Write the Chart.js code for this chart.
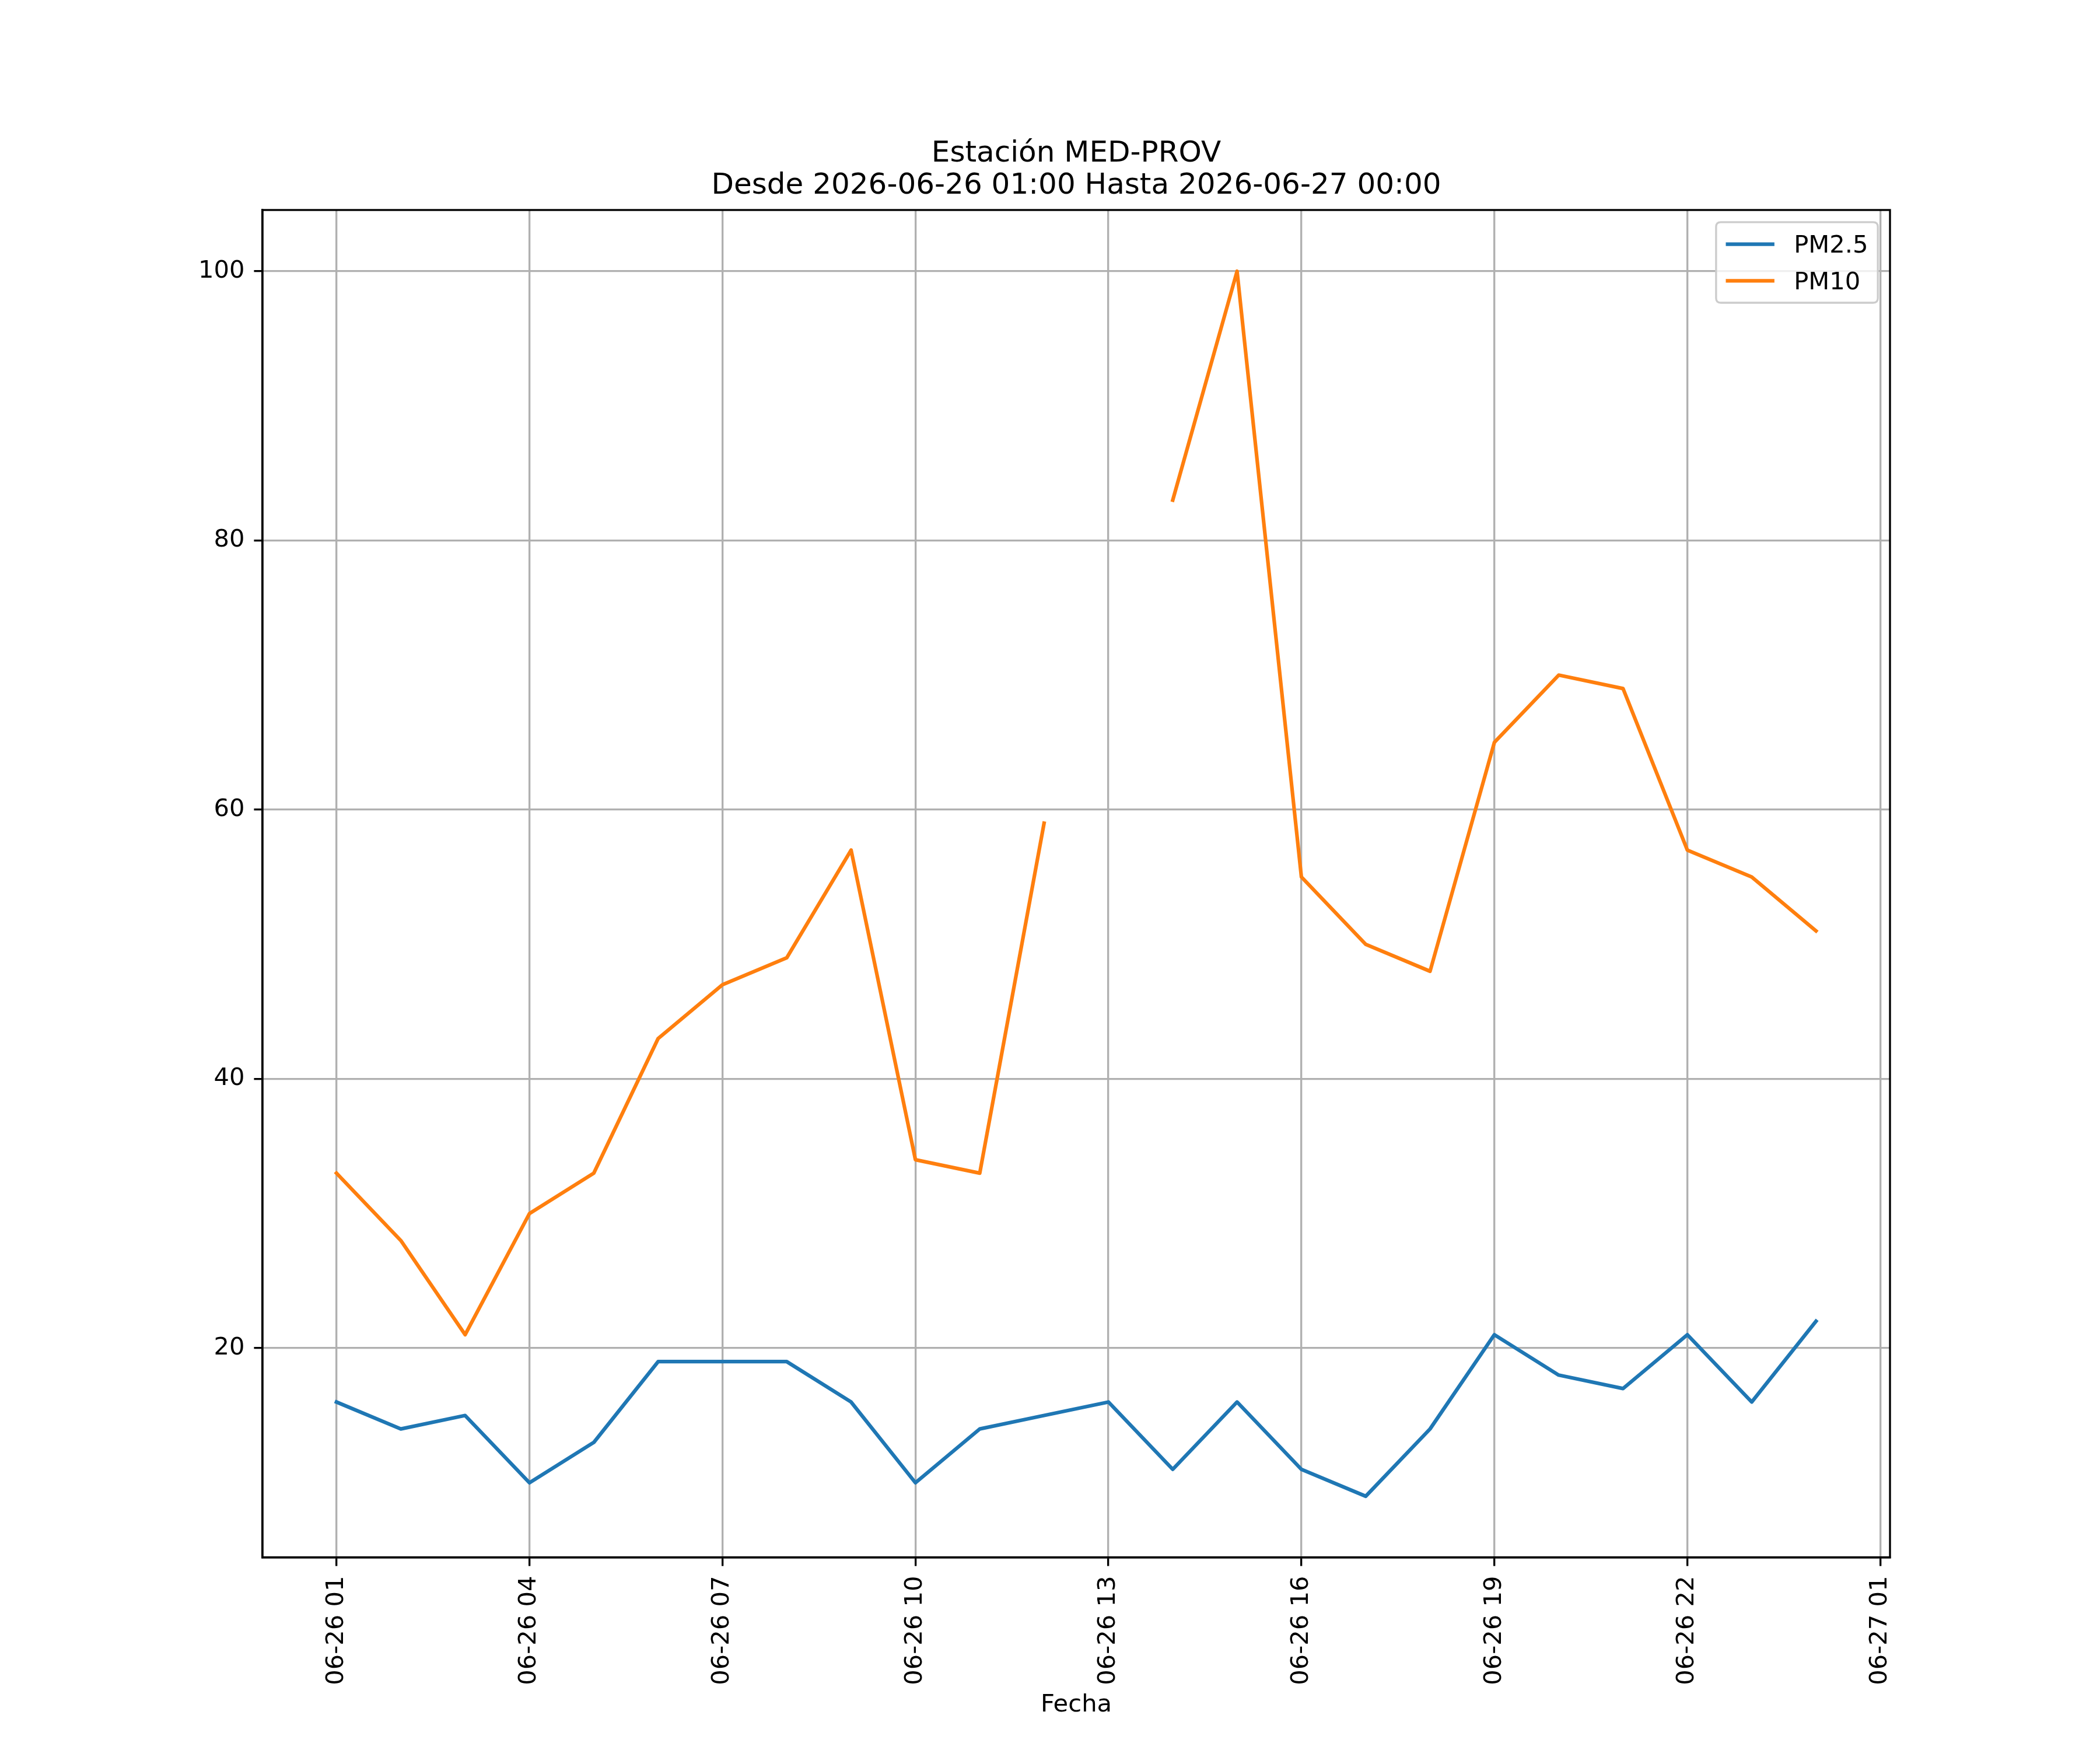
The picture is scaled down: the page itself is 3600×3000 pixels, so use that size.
<!DOCTYPE html>
<html>
<head>
<meta charset="utf-8">
<script src="https://cdn.jsdelivr.net/npm/chart.js@4.4.1/dist/chart.umd.min.js"></script>
<style>
html,body{margin:0;padding:0;background:#ffffff;}
canvas{display:block;}
</style>
</head>
<body>
<canvas id="chart" width="3600" height="3000" style="width:3600px;height:3000px;"></canvas>
<script>
// ---- data ----
const hours = [1,2,3,4,5,6,7,8,9,10,11,12,13,14,15,16,17,18,19,20,21,22,23,24];
const pm25 = [16,14,15,10,13,19,19,19,16,10,14,15,16,11,16,11,9,14,21,18,17,21,16,22];
const pm10 = [33,28,21,30,33,43,47,49,57,34,33,59,null,83,100,55,50,48,65,70,69,57,55,51];
const seriesNames = ['PM2.5','PM10'];
const xTickValues = [1,4,7,10,13,16,19,22,25];
const xTickLabels = ['06-26 01','06-26 04','06-26 07','06-26 10','06-26 13','06-26 16','06-26 19','06-26 22','06-27 01'];
const yTickValues = [20,40,60,80,100];
const titleLines = ['Estación MED-PROV','Desde 2026-06-26 01:00 Hasta 2026-06-27 00:00'];
const xAxisTitle = 'Fecha';

// ---- helpers ----
const toPoints = (ys) => hours.map((h,i) => ({x:h, y:ys[i]}));
const allY = pm25.concat(pm10).filter(v => v !== null);
const yMinD = Math.min(...allY), yMaxD = Math.max(...allY);
const xMinD = Math.min(...hours), xMaxD = Math.max(...hours);
const yPad = (yMaxD - yMinD) * 0.05, xPad = (xMaxD - xMinD) * 0.05;

const PT = 300/72;          // points -> pixels at 300 dpi
const FS = 10*PT;           // 10pt font
Chart.defaults.font.family = "'DejaVu Sans', sans-serif";
Chart.defaults.color = '#000000';

const framePlugin = {
  id: 'frame',
  afterDatasetsDraw(chart) {
    const {ctx, chartArea:a} = chart;
    ctx.save();
    ctx.strokeStyle = '#000000';
    ctx.lineWidth = 0.8*PT;
    ctx.strokeRect(a.left, a.top, a.right - a.left, a.bottom - a.top);
    ctx.restore();
  }
};

const legendPlugin = {
  id: 'mplLegend',
  afterDraw(chart) {
    const {ctx, chartArea:a} = chart;
    const ds = chart.data.datasets;
    ctx.save();
    ctx.font = FS + "px 'DejaVu Sans'";
    let maxW = 0;
    ds.forEach(d => { maxW = Math.max(maxW, ctx.measureText(d.label).width); });
    const pad = 0.4*FS, handleLen = 2.0*FS, hTextPad = 0.8*FS, rowH = 42, rowGap = 0.5*FS;
    const boxW = pad + handleLen + hTextPad + maxW + pad;
    const boxH = pad*2 + rowH*ds.length + rowGap*(ds.length-1);
    const right = a.right - 0.5*FS, top = a.top + 0.5*FS;
    const left = right - boxW;
    const r = 8;
    ctx.beginPath();
    ctx.moveTo(left + r, top);
    ctx.lineTo(right - r, top);
    ctx.quadraticCurveTo(right, top, right, top + r);
    ctx.lineTo(right, top + boxH - r);
    ctx.quadraticCurveTo(right, top + boxH, right - r, top + boxH);
    ctx.lineTo(left + r, top + boxH);
    ctx.quadraticCurveTo(left, top + boxH, left, top + boxH - r);
    ctx.lineTo(left, top + r);
    ctx.quadraticCurveTo(left, top, left + r, top);
    ctx.closePath();
    ctx.fillStyle = 'rgba(255,255,255,0.8)';
    ctx.fill();
    ctx.strokeStyle = '#cccccc';
    ctx.lineWidth = 0.8*PT;
    ctx.stroke();
    ds.forEach((d, i) => {
      const cy = top + pad + rowH/2 + i*(rowH + rowGap);
      ctx.strokeStyle = d.borderColor;
      ctx.lineWidth = d.borderWidth;
      ctx.lineCap = 'butt';
      ctx.beginPath();
      ctx.moveTo(left + pad, cy);
      ctx.lineTo(left + pad + handleLen, cy);
      ctx.stroke();
      ctx.fillStyle = '#000000';
      ctx.textAlign = 'left';
      ctx.textBaseline = 'alphabetic';
      ctx.fillText(d.label, left + pad + handleLen + hTextPad, cy + 14.5);
    });
    ctx.restore();
  }
};

new Chart(document.getElementById('chart'), {
  type: 'line',
  data: {
    datasets: [
      {label: seriesNames[0], data: toPoints(pm25), borderColor: '#1f77b4', backgroundColor: '#1f77b4',
       borderWidth: 1.5*PT, pointRadius: 0, tension: 0, spanGaps: false, fill: false,
       borderJoinStyle: 'round', borderCapStyle: 'square'},
      {label: seriesNames[1], data: toPoints(pm10), borderColor: '#ff7f0e', backgroundColor: '#ff7f0e',
       borderWidth: 1.5*PT, pointRadius: 0, tension: 0, spanGaps: false, fill: false,
       borderJoinStyle: 'round', borderCapStyle: 'square'}
    ]
  },
  options: {
    responsive: false,
    devicePixelRatio: 1,
    animation: false,
    layout: {padding: {left: 0, right: 360, top: 0, bottom: 0}},
    plugins: {
      legend: {display: false},
      tooltip: {enabled: false},
      title: {
        display: true,
        fullSize: false,
        text: titleLines,
        color: '#000000',
        font: {size: 12*PT, weight: 'normal', lineHeight: 1.1},
        padding: {top: 236.5, bottom: 13.5}
      }
    },
    scales: {
      x: {
        type: 'linear',
        min: xMinD - xPad,
        max: xMaxD + xPad,
        afterBuildTicks: (s) => { s.ticks = xTickValues.map(v => ({value: v})); },
        afterFit: (s) => { s.height = 330; },
        ticks: {
          autoSkip: false,
          minRotation: 90,
          maxRotation: 90,
          padding: 17,
          color: '#000000',
          font: {size: FS},
          callback: (v, i) => xTickLabels[i]
        },
        grid: {
          color: '#b0b0b0',
          lineWidth: 0.8*PT,
          tickColor: '#000000',
          tickWidth: 0.8*PT,
          tickLength: 3.5*PT
        },
        border: {display: true, color: '#000000', width: 0.8*PT},
        title: {
          display: true,
          text: xAxisTitle,
          color: '#000000',
          font: {size: FS, lineHeight: 1.2},
          padding: {top: 0, bottom: 52}
        }
      },
      y: {
        type: 'linear',
        min: yMinD - yPad,
        max: yMaxD + yPad,
        afterBuildTicks: (s) => { s.ticks = yTickValues.map(v => ({value: v})); },
        afterFit: (s) => { s.width = 450; },
        ticks: {
          padding: 16,
          color: '#000000',
          font: {size: FS},
          callback: (v) => String(v)
        },
        grid: {
          color: '#b0b0b0',
          lineWidth: 0.8*PT,
          tickColor: '#000000',
          tickWidth: 0.8*PT,
          tickLength: 3.5*PT
        },
        border: {display: true, color: '#000000', width: 0.8*PT}
      }
    }
  },
  plugins: [framePlugin, legendPlugin]
});
</script>
</body>
</html>
